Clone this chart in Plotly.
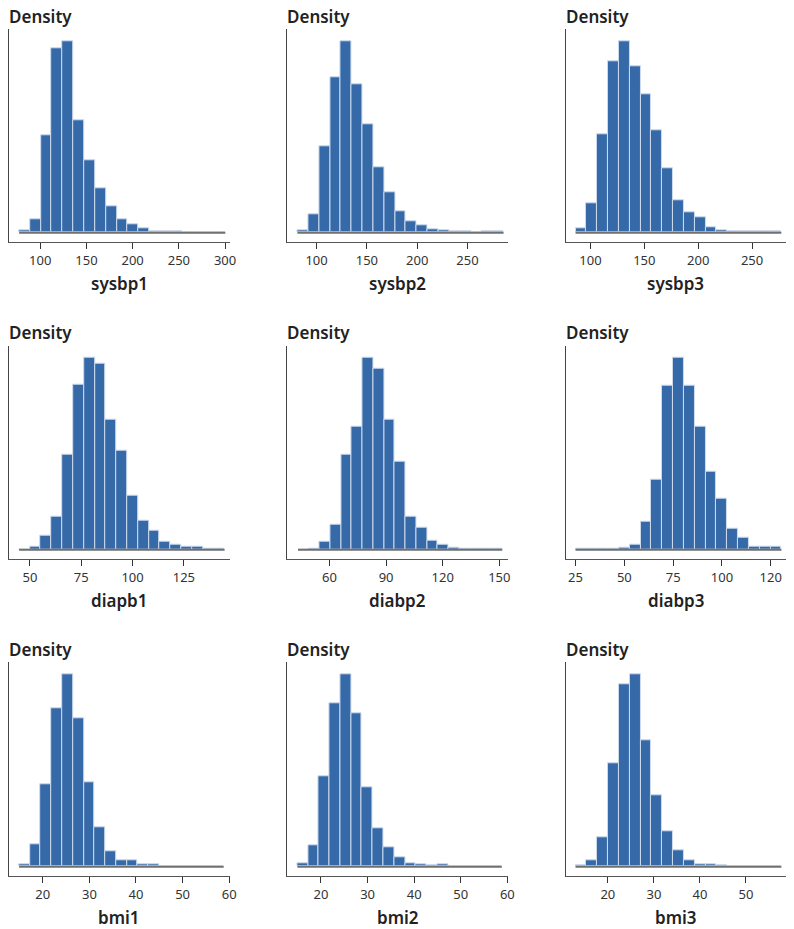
import plotly.graph_objects as go

# Histogram densities (19 equal-width bins per variable)
variables = ["sysbp1", "sysbp2", "sysbp3",
             "diapb1", "diabp2", "diabp3",
             "bmi1", "bmi2", "bmi3"]

sysbp1_density = [0.00022, 0.00151, 0.01069, 0.02013, 0.02094, 0.01231, 0.00796, 0.00487, 0.00288, 0.00151,
                  0.00088, 0.00052, 0.00018, 0.00011, 0.00018, 0.00004, 0.00004, 0.00004, 0.00007]
sysbp2_density = [0.00028, 0.00198, 0.00927, 0.01663, 0.02046, 0.01589, 0.01161, 0.00697, 0.00428, 0.00227,
                  0.00127, 0.00081, 0.00032, 0.00025, 0.00011, 0.00011, 0.00004, 0.00011, 0.00011]
sysbp3_density = [0.00038, 0.00281, 0.00934, 0.01622, 0.01818, 0.01575, 0.01310, 0.00972, 0.00612, 0.00306,
                  0.00196, 0.00145, 0.00054, 0.00025, 0.00013, 0.00013, 0.00013, 0.00013, 0.00013]
diapb1_density = [0.00006, 0.00050, 0.00254, 0.00608, 0.01730, 0.03013, 0.03509, 0.03403, 0.02368, 0.01810,
                  0.00979, 0.00521, 0.00353, 0.00143, 0.00087, 0.00050, 0.00050, 0.00019, 0.00025]
diabp2_density = [0.00000, 0.00026, 0.00155, 0.00479, 0.01820, 0.02352, 0.03667, 0.03459, 0.02475, 0.01684,
                  0.00622, 0.00421, 0.00168, 0.00097, 0.00032, 0.00019, 0.00019, 0.00019, 0.00026]
diabp3_density = [0.00013, 0.00013, 0.00013, 0.00013, 0.00039, 0.00105, 0.00556, 0.01368, 0.03200, 0.03757,
                  0.03200, 0.02402, 0.01532, 0.01001, 0.00412, 0.00236, 0.00052, 0.00052, 0.00052]
bmi1_density = [0.00113, 0.01267, 0.04633, 0.08963, 0.10892, 0.08396, 0.04746, 0.02250, 0.00889, 0.00378,
                0.00378, 0.00132, 0.00132, 0.00019, 0.00019, 0.00019, 0.00019, 0.00019, 0.00019]
bmi2_density = [0.00167, 0.01203, 0.04995, 0.09065, 0.10656, 0.08473, 0.04403, 0.02146, 0.01055, 0.00500,
                0.00204, 0.00130, 0.00093, 0.00111, 0.00019, 0.00019, 0.00019, 0.00019, 0.00019]
bmi3_density = [0.00073, 0.00365, 0.01625, 0.05624, 0.09933, 0.10518, 0.06884, 0.03889, 0.01917, 0.00876,
                0.00329, 0.00128, 0.00128, 0.00091, 0.00018, 0.00018, 0.00018, 0.00018, 0.00018]

densities = [sysbp1_density, sysbp2_density, sysbp3_density,
             diapb1_density, diabp2_density, diabp3_density,
             bmi1_density, bmi2_density, bmi3_density]

# Lower edge of the first bin and bin width
bin_starts = [77.1, 81.0, 86.2, 44.7, 43.3, 25.0, 14.93, 14.93, 12.97]
bin_widths = [11.75, 10.78, 10.05, 5.27, 5.70, 5.55, 2.31, 2.31, 2.354]

# Axis ranges and ticks
x_ranges = [[66.4, 305], [71.1, 290], [77.3, 281.5],
            [39.9, 147.3], [37.7, 154.5], [20.1, 132.8],
            [12.8, 60.1], [12.8, 60.1], [10.9, 58.7]]
tick_values = [[100, 150, 200, 250, 300], [100, 150, 200, 250], [100, 150, 200, 250],
               [50, 75, 100, 125], [60, 90, 120, 150], [25, 50, 75, 100, 125],
               [20, 30, 40, 50, 60], [20, 30, 40, 50, 60], [20, 30, 40, 50]]
tick_texts = [["100", "150", "200", "250", "300"], ["100", "150", "200", "250"], ["100", "150", "200", "250"],
              ["50", "75", "100", "125"], ["60", "90", "120", "150"], ["25", "50", "75", "100", "120"],
              ["20", "30", "40", "50", "60"], ["20", "30", "40", "50", "60"], ["20", "30", "40", "50"]]

W, H = 794, 929
col_px = [(9.3, 231.7), (290.0, 512.3), (571.0, 793.0)]
row_px = [(29.3, 242.0), (345.7, 559.0), (662.3, 876.0)]

BAR = "#3569a8"
EDGE = "#cddbec"
FONT = "Noto Sans"

fig = go.Figure()
annotations = []

for i, var in enumerate(variables):
    r, c = divmod(i, 3)
    n = i + 1
    xa = "x" if n == 1 else f"x{n}"
    ya = "y" if n == 1 else f"y{n}"
    dens = densities[i]
    start, w = bin_starts[i], bin_widths[i]
    centers = [start + w * (k + 0.5) for k in range(len(dens))]
    end = start + w * len(dens)

    fig.add_trace(go.Bar(x=centers, y=dens, width=w, marker=dict(color=BAR, line=dict(color=EDGE, width=1)),
                         xaxis=xa, yaxis=ya, showlegend=False, hoverinfo="x+y"))
    fig.add_trace(go.Scatter(x=[start, end], y=[0, 0], mode="lines", line=dict(color="#707070", width=2),
                             xaxis=xa, yaxis=ya, showlegend=False, hoverinfo="skip"))

    x0, x1 = col_px[c]
    y0, y1 = row_px[r]
    peak = max(dens)
    xkey = "xaxis" if n == 1 else f"xaxis{n}"
    ykey = "yaxis" if n == 1 else f"yaxis{n}"
    fig.update_layout({
        xkey: dict(domain=[x0 / W, x1 / W], anchor=ya, range=x_ranges[i], showgrid=False, zeroline=False,
                   showline=True, linecolor="#555555", linewidth=1, ticks="outside", ticklen=6,
                   tickcolor="#333333", tickwidth=1, tickvals=tick_values[i], ticktext=tick_texts[i],
                   tickfont=dict(family=FONT, size=13, color="#333333"), fixedrange=True),
        ykey: dict(domain=[1 - y1 / H, 1 - y0 / H], anchor=xa, range=[-0.0484 * peak, 1.061 * peak],
                   showgrid=False, zeroline=False, showline=True, linecolor="#444444", linewidth=1,
                   ticks="", showticklabels=False, fixedrange=True),
    })

    annotations.append(dict(text="Density", xref="paper", yref="paper", x=(x0 - 2.3) / W, y=1 - (y0 - 12.9) / H,
                            xanchor="left", yanchor="middle", showarrow=False,
                            font=dict(family=FONT, size=17, color="#222222", weight=600)))
    annotations.append(dict(text=var, xref="paper", yref="paper", x=(x0 + x1) / 2 / W, y=1 - (y1 + 41) / H,
                            xanchor="center", yanchor="middle", showarrow=False, height=22,
                            font=dict(family=FONT, size=17, color="#222222", weight=600)))

fig.update_layout(width=W, height=H, margin=dict(l=0, r=0, t=0, b=0), paper_bgcolor="white",
                  plot_bgcolor="white", bargap=0, annotations=annotations)

fig.write_html("out.html")
